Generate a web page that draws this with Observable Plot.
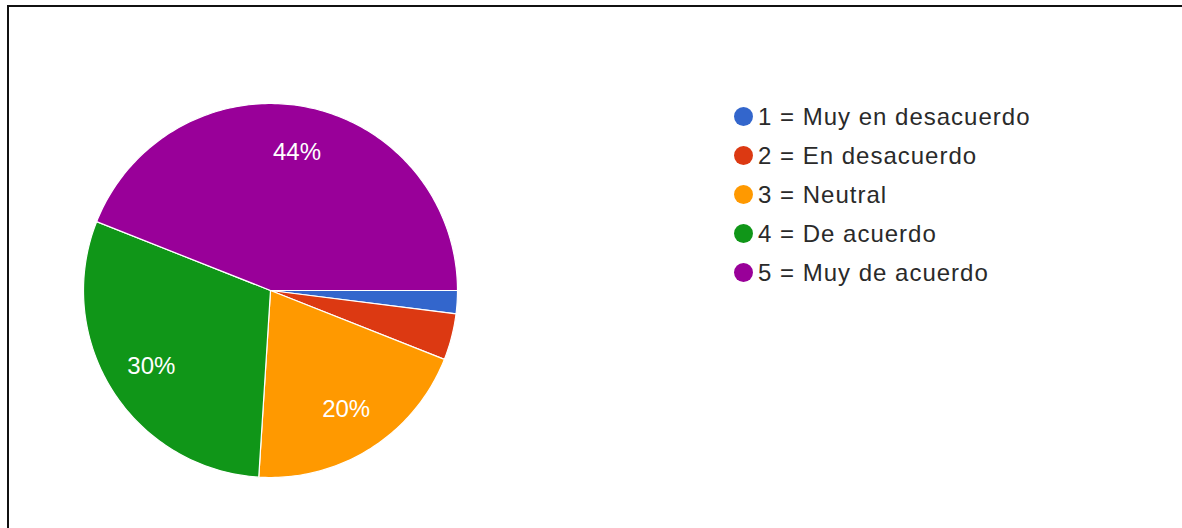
<!DOCTYPE html>
<html>
<head>
<meta charset="utf-8">
<script src="https://cdn.jsdelivr.net/npm/d3@7"></script>
<script src="https://cdn.jsdelivr.net/npm/@observablehq/plot@0.6"></script>
<style>
  html, body { margin: 0; padding: 0; background: #fff; }
  body { width: 1182px; height: 528px; position: relative; overflow: hidden; font-family: "Liberation Sans", Arial, sans-serif; }
  #chart { position: absolute; left: 0; top: 0; }
  #frame { position: absolute; left: 7px; top: 5px; width: 1300px; height: 600px; border-top: 2px solid #111; border-left: 2px solid #111; pointer-events: none; }
  #legend { position: absolute; left: 734px; top: 97px; }
  .row { display: flex; align-items: center; height: 39px; }
  .sw { width: 19px; height: 19px; border-radius: 50%; margin-right: 5px; }
  .lab { font-size: 24px; letter-spacing: 1px; color: #2a2a2a; white-space: nowrap; }
</style>
</head>
<body>
<div id="chart"></div>
<div id="legend"></div>
<div id="frame"></div>
<script>
const categories = ["1 = Muy en desacuerdo", "2 = En desacuerdo", "3 = Neutral", "4 = De acuerdo", "5 = Muy de acuerdo"];
const values = [2, 4, 20, 30, 44];
const colors = ["#3366cc", "#dc3912", "#ff9900", "#109618", "#990099"];
const shownLabels = ["", "", "20%", "30%", "44%"];

const W = 1182, H = 528;
const cx = 270, cy = 290, R = 187;

// slice geometry in radius units (clockwise from 3 o'clock)
const total = d3.sum(values);
const slices = [];
const labelPts = [];
let acc = 0;
values.forEach((v, i) => {
  const a0 = acc / total * 2 * Math.PI;
  acc += v;
  const a1 = acc / total * 2 * Math.PI;
  const steps = Math.max(2, Math.ceil((a1 - a0) / (Math.PI / 180)));
  slices.push({key: categories[i], x: 0, y: 0});
  for (let s = 0; s <= steps; s++) {
    const a = a0 + (a1 - a0) * s / steps;
    slices.push({key: categories[i], x: Math.cos(a), y: -Math.sin(a)});
  }
  const am = (a0 + a1) / 2;
  if (shownLabels[i]) labelPts.push({text: shownLabels[i], x: 0.755 * Math.cos(am), y: -0.755 * Math.sin(am)});
});

const plot = Plot.plot({
  width: W, height: H,
  margin: 0,
  x: {domain: [-cx / R, (W - cx) / R], range: [0, W], axis: null},
  y: {domain: [-(H - cy) / R, cy / R], range: [H, 0], axis: null},
  color: {domain: categories, range: colors},
  marks: [
    Plot.line(slices, {x: "x", y: "y", z: "key", fill: "key", stroke: "white", strokeWidth: 1.2, strokeLinejoin: "round", curve: "linear-closed"}),
    Plot.text(labelPts, {x: "x", y: "y", text: "text", fill: "white", fontSize: 24, fontWeight: 500, fontFamily: "Liberation Sans, Arial, sans-serif"})
  ]
});
document.getElementById("chart").appendChild(plot);

const leg = d3.select("#legend");
categories.forEach((c, i) => {
  const row = leg.append("div").attr("class", "row");
  row.append("div").attr("class", "sw").style("background", colors[i]);
  row.append("div").attr("class", "lab").text(c);
});
</script>
</body>
</html>
